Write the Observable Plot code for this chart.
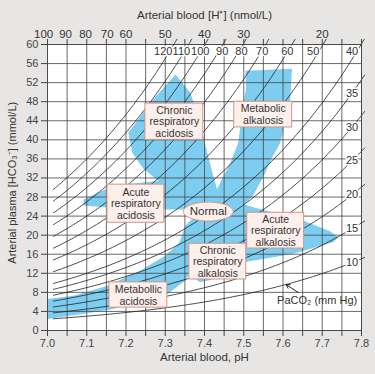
<!DOCTYPE html>
<html><head><meta charset="utf-8">
<script src="https://cdn.jsdelivr.net/npm/d3@7"></script>
<script src="https://cdn.jsdelivr.net/npm/@observablehq/plot@0.6"></script>
<style>
html,body{margin:0;padding:0;background:#e8e6e5;}
#chart{width:375px;height:374px;}
</style></head><body><div id="chart"></div>
<script>
// ---- data ----
const phTicks = [7.0, 7.1, 7.2, 7.3, 7.4, 7.5, 7.6, 7.7, 7.8];
const phGrid = [7.0,7.05,7.1,7.15,7.2,7.25,7.3,7.35,7.4,7.45,7.5,7.55,7.6,7.65,7.7,7.75,7.8];
const hco3Ticks = [0,4,8,12,16,20,24,28,32,36,40,44,48,52,56,60];
const hLabels = [100, 90, 80, 70, 60, 50, 40, 30, 20];
const hLabelPH = [6.99, 7.046, 7.097, 7.152, 7.2, 7.3, 7.4, 7.5, 7.7];
const pco2Values = [10, 15, 20, 25, 30, 35, 40, 50, 60, 70, 80, 90, 100, 110, 120];
// where each PaCO2 label sits (top row for 40–120, right column for 10–35)
const pco2TopLabelPH = {120: 7.295, 110: 7.341, 100: 7.389, 90: 7.445, 80: 7.494, 70: 7.547, 60: 7.611, 50: 7.677, 40: 7.776};

// blue bands [pH, HCO3]
const acuteRespAcidosis = [[7.092,27.5],[7.122,28.7],[7.153,29.8],[7.211,30.8],[7.288,31.4],[7.351,29.4],[7.402,27.3],[7.428,25.2],[7.402,24.1],[7.351,25.4],[7.298,25.4],[7.153,25.8],[7.092,26.2]];
const chronicRespAcidosis = [[7.206,41.5],[7.262,47.8],[7.326,53.7],[7.364,49.9],[7.389,43.6],[7.407,37.3],[7.422,32.5],[7.433,29.4],[7.435,26.2],[7.402,25.2],[7.351,27.3],[7.288,31.0],[7.244,34.0],[7.216,37.3]];
const metabolicAlkalosis = [[7.504,54.5],[7.506,50.7],[7.499,47.8],[7.491,42.6],[7.486,39.4],[7.466,35.2],[7.445,31.9],[7.433,29.8],[7.428,27.3],[7.453,25.2],[7.499,26.2],[7.524,28.3],[7.555,33.1],[7.575,36.7],[7.593,39.4],[7.603,42.6],[7.618,47.8],[7.623,54.9]];
const acuteRespAlkalosis = [[7.440,26.6],[7.478,27.3],[7.517,26.0],[7.651,23.1],[7.720,20.8],[7.741,19.5],[7.728,18.5],[7.626,16.1],[7.542,14.9],[7.499,14.3],[7.466,18.9],[7.420,23.5]];
const chronicRespAlkalosis = [[7.377,24.1],[7.453,23.1],[7.499,16.8],[7.506,12.2],[7.389,10.1],[7.346,12.6],[7.333,17.8],[7.351,22.0]];
const metabolicAcidosis = [[7.000,6.6],[7.066,7.3],[7.153,9.4],[7.237,12.6],[7.300,15.7],[7.333,18.2],[7.364,21.4],[7.402,23.7],[7.428,22.0],[7.389,15.7],[7.351,10.5],[7.305,7.6],[7.237,5.9],[7.160,4.4],[7.084,3.4],[7.000,2.4]];

const bands = [acuteRespAcidosis, chronicRespAcidosis, metabolicAlkalosis, acuteRespAlkalosis, chronicRespAlkalosis, metabolicAcidosis]
  .flatMap((pts, i) => pts.map(([x, y]) => ({x, y, band: i})));

// PaCO2 isopleths: Henderson–Hasselbalch, HCO3 = 0.03·PaCO2·10^(pH−6.1)
const hh = (p, ph) => 0.03 * p * Math.pow(10, ph - 6.1);
const isopleths = pco2Values.flatMap(p => {
  const end = Math.min(7.808, 6.1 + Math.log10(61.1 / (0.03 * p)));
  const n = 60, start = 7.015;
  return d3.range(n + 1).map(i => { const ph = start + (end - start) * i / n; return {p, x: ph, y: hh(p, ph)}; });
});
const isoLabels = pco2Values.map(p => p >= 40
  ? {p, x: pco2TopLabelPH[p], y: 58.6}
  : {p, x: 7.776, y: hh(p, 7.776)});

// ---- annotations ----
const boxes = [
  {text: "Chronic\nrespiratory\nacidosis", x1: 7.2494, x2: 7.3969, y1: 40.0, y2: 47.6},
  {text: "Metabolic\nalkalosis", x1: 7.4758, x2: 7.6234, y1: 42.6, y2: 48.0},
  {text: "Acute\nrespiratory\nacidosis", x1: 7.1527, x2: 7.2977, y1: 22.6, y2: 30.6},
  {text: "Acute\nrespiratory\nalkalosis", x1: 7.5089, x2: 7.6539, y1: 17.2, y2: 24.7},
  {text: "Chronic\nrespiratory\nalkalosis", x1: 7.3613, x2: 7.5064, y1: 10.7, y2: 18.2},
  {text: "Metabollic\nacidosis", x1: 7.1578, x2: 7.3053, y1: 4.8, y2: 10.1}
];
const normalC = {x: 7.4097, y: 24.95, rx: 0.0636, ry: 1.99};
const ellipse = d3.range(73).map(i => { const t = i / 72 * 2 * Math.PI; return {x: normalC.x + normalC.rx * Math.cos(t), y: normalC.y + normalC.ry * Math.sin(t)}; });

const blue = "#7dcdf0", boxFill = "#fdefeb", boxStroke = "#cf9688", ink = "#333";

const chart = Plot.plot({
  width: 375, height: 374,
  marginLeft: 47, marginRight: 14, marginTop: 44, marginBottom: 44,
  style: {background: "transparent", fontFamily: "'Liberation Sans', Arial, sans-serif", fontSize: "11px", color: "#444"},
  x: {domain: [7.0, 7.8]},
  y: {domain: [0, 60]},
  marks: [
    Plot.frame({fill: "white", stroke: null}),
    Plot.line(bands, {x: "x", y: "y", z: "band", fill: blue, stroke: null, curve: "linear-closed"}),
    Plot.ruleX(phGrid, {stroke: "#444", strokeWidth: 0.8}),
    Plot.ruleY(hco3Ticks, {stroke: "#444", strokeWidth: 0.8}),
    Plot.line(isopleths, {x: "x", y: "y", z: "p", stroke: "#222", strokeWidth: 0.8, clip: false}),
    Plot.text(isoLabels, {x: "x", y: "y", text: d => String(d.p), fill: "#333", stroke: "white", strokeWidth: 3, fontSize: 11}),
    Plot.rect(boxes, {x1: "x1", x2: "x2", y1: "y1", y2: "y2", fill: boxFill, stroke: boxStroke, strokeWidth: 1}),
    Plot.text(boxes, {x: d => (d.x1 + d.x2) / 2, y: d => (d.y1 + d.y2) / 2, text: "text", fill: ink, fontSize: 10.5, lineHeight: 1.12}),
    Plot.line(ellipse, {x: "x", y: "y", fill: boxFill, stroke: boxStroke, strokeWidth: 1, curve: "linear-closed"}),
    Plot.text(["Normal"], {x: normalC.x, y: normalC.y, fill: ink, fontSize: 11.5}),
    Plot.arrow([{x1: 7.6387, y1: 7.97, x2: 7.6081, y2: 9.64}], {x1: "x1", y1: "y1", x2: "x2", y2: "y2", stroke: "#222", strokeWidth: 1, headLength: 6}),
    Plot.text(["PaCO₂ (mm Hg)"], {x: 7.687, y: 6.3, fill: ink, fontSize: 11}),
    Plot.frame({stroke: "#444", strokeWidth: 0.8}),
    Plot.axisY({ticks: hco3Ticks, tickSize: 6, tickPadding: 3, label: null, fontSize: 11}),
    Plot.axisX({anchor: "bottom", ticks: phGrid, tickSize: 6, tickPadding: 3, label: null, fontSize: 11,
      tickFormat: d => phTicks.some(t => Math.abs(t - d) < 1e-6) ? d.toFixed(1) : ""}),
    Plot.axisX({anchor: "top", ticks: phGrid, tickSize: 6, label: null, tickFormat: () => ""}),
    Plot.text(hLabels, {x: (d, i) => hLabelPH[i], y: 60, dy: -7, lineAnchor: "bottom", text: d => String(d), fill: "#333", fontSize: 11.5, clip: false}),
    Plot.text(["Arterial blood [H⁺] (nmol/L)"], {frameAnchor: "top", dy: -26, lineAnchor: "bottom", fill: "#333", fontSize: 11.5}),
    Plot.text(["Arterial blood, pH"], {frameAnchor: "bottom", dy: 30, fill: "#333", fontSize: 11.5}),
    Plot.text(["Arterial plasma [HCO₃⁻] (mmol/L)"], {x: 7.0, y: 31, dx: -35, rotate: -90, textAnchor: "middle", fill: "#333", fontSize: 11, clip: false})
  ]
});
document.getElementById("chart").appendChild(chart);
</script></body></html>
